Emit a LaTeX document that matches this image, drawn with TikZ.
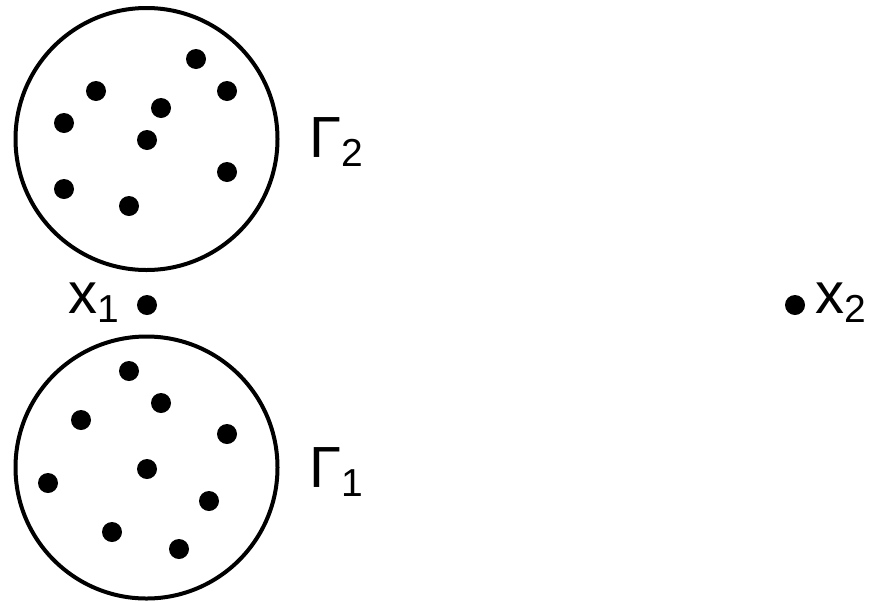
\documentclass[tikz,border=0pt]{standalone}
\usepackage{fontspec}
\setmainfont{Liberation Sans}
\usepackage{tikz}
\usetikzlibrary{positioning, calc}

\newcommand{\lowsub}[1]{\raisebox{-4.5pt}{\fontsize{19.5}{20}\selectfont #1}}

\tikzset{
  ring/.style={draw, circle, line width=2pt, minimum size=131pt, inner sep=0pt},
  pt/.style={fill, circle, minimum size=10pt, inner sep=0pt},
  lbl/.style={inner sep=0pt, anchor=base west, font=\fontsize{29}{30}\selectfont}
}

\begin{document}
\begin{tikzpicture}[x=0.5pt,y=-0.5pt]
  \useasboundingbox (0,0) rectangle (871,600);

  % the two sets
  \node[ring] (G2) at (146.5,139) {};
  \node[ring] (G1) at (146.5,467.5) {};

  % points of Gamma_2
  \foreach \x/\y [count=\i] in {196/59, 96/91, 227/91, 161/108, 64/123,
                                147/140, 227/172, 64/189, 129/206}
    \node[pt] (p\i) at (\x,\y) {};

  % points of Gamma_1
  \foreach \x/\y [count=\i] in {129/371, 161/403, 81/420, 227/434, 147/469,
                                48/483, 209/501, 112/532, 179/549}
    \node[pt] (q\i) at (\x,\y) {};

  % the two extra points
  \node[pt] (x1) at (147,305) {};
  \node[pt] (x2) at (795,305) {};

  % labels
  \node[lbl] (lx1) at (68,313) {x\lowsub{1}};
  \node[lbl] (lx2) at (815,313) {x\lowsub{2}};
  \node[lbl] (lG2) at (309,157) {Γ\lowsub{2}};
  \node[lbl] (lG1) at (309,487) {Γ\lowsub{1}};
\end{tikzpicture}
\end{document}
